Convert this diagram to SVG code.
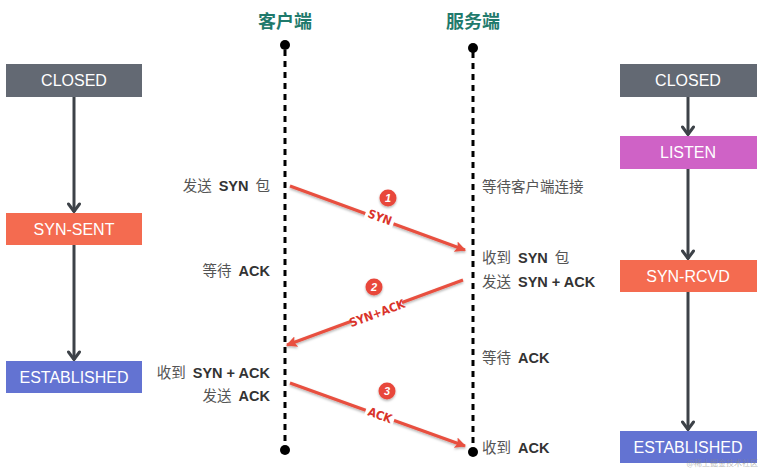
<svg xmlns="http://www.w3.org/2000/svg" width="762" height="469" viewBox="0 0 762 469">
<defs>
<style>
.box text{font-family:"Liberation Sans",Arial,sans-serif;font-size:16px;fill:#fff;text-anchor:middle}
.title{font-family:"Noto Sans CJK SC","Noto Sans",sans-serif;font-size:18px;font-weight:bold;fill:#1f7a6c;text-anchor:middle}
.note{font-family:"Noto Sans CJK SC","Liberation Sans",sans-serif;font-size:14.5px;fill:#555}
.note tspan.en{font-family:"Liberation Sans",Arial,sans-serif;font-weight:bold;fill:#333}
.life{stroke:#000;stroke-width:3;stroke-dasharray:6 5;fill:none}
.state{stroke:#3d4248;stroke-width:3;fill:none;marker-end:url(#chev)}
.msg{stroke:#e8503f;stroke-width:3;fill:none;marker-end:url(#tri);filter:url(#sh)}
.lbl{font-family:"DejaVu Sans Condensed","Liberation Sans Narrow","Liberation Sans",sans-serif;font-size:12px;font-weight:bold;fill:#d9332a;text-anchor:middle}
.num{font-family:"Liberation Sans",Arial,sans-serif;font-size:11px;font-weight:bold;font-style:italic;fill:#fff;text-anchor:middle}
</style>
<marker id="chev" viewBox="0 0 14 14" refX="12" refY="7" markerWidth="14" markerHeight="14" markerUnits="userSpaceOnUse" orient="auto">
<path d="M4,1.5 L11.5,7 L4,12.5" fill="none" stroke="#3d4248" stroke-width="3" stroke-linecap="round" stroke-linejoin="miter"/>
</marker>
<marker id="tri" viewBox="0 0 10 10" refX="9" refY="5" markerWidth="11" markerHeight="11" markerUnits="userSpaceOnUse" orient="auto">
<path d="M0,0 L10,5 L0,10 L2,5 Z" fill="#e8503f"/>
</marker>
<filter id="sh" x="-10%" y="-30%" width="120%" height="160%">
<feDropShadow dx="0" dy="1.5" stdDeviation="1" flood-color="#000" flood-opacity="0.3"/>
</filter>
</defs>
<rect width="762" height="469" fill="#fff"/>

<text class="title" x="285" y="28">客户端</text>
<text class="title" x="473" y="28">服务端</text>

<g id="lifelines">
<line class="life" x1="285" y1="50" x2="285" y2="446"/>
<line class="life" x1="473" y1="52" x2="473" y2="448"/>
<circle cx="285" cy="45" r="5" fill="#000"/>
<circle cx="285" cy="450" r="5" fill="#000"/>
<circle cx="473" cy="48" r="5" fill="#000"/>
<circle cx="473" cy="452" r="5" fill="#000"/>
</g>

<g id="connectors">
<line class="state" x1="74" y1="97" x2="74" y2="212"/>
<line class="state" x1="74" y1="245" x2="74" y2="360"/>
<line class="state" x1="688" y1="97" x2="688" y2="135"/>
<line class="state" x1="688" y1="169" x2="688" y2="259"/>
<line class="state" x1="688" y1="292" x2="688" y2="430"/>
<line class="msg" x1="290" y1="186" x2="465" y2="250"/>
<line class="msg" x1="463" y1="280" x2="287" y2="345"/>
<line class="msg" x1="290" y1="383" x2="465" y2="446"/>
</g>

<g id="label-syn" transform="translate(380 217) rotate(20)">
<rect x="-15" y="-7" width="30" height="14" fill="#fff"/>
<text class="lbl" x="0" y="4.5">SYN</text>
</g>
<g id="label-synack" transform="translate(377 313) rotate(-20.3)">
<rect x="-27" y="-7" width="54" height="14" fill="#fff"/>
<text class="lbl" x="0" y="4.5">SYN+ACK</text>
</g>
<g id="label-ack" transform="translate(380 415) rotate(19.8)">
<rect x="-15" y="-7" width="30" height="14" fill="#fff"/>
<text class="lbl" x="0" y="4.5">ACK</text>
</g>

<g id="step1"><circle cx="388" cy="198" r="8.5" fill="#e8473b" filter="url(#sh)"/><text class="num" x="388" y="202">1</text></g>
<g id="step2"><circle cx="374" cy="287" r="8.5" fill="#e8473b" filter="url(#sh)"/><text class="num" x="374" y="291">2</text></g>
<g id="step3"><circle cx="387" cy="391" r="8.5" fill="#e8473b" filter="url(#sh)"/><text class="num" x="387" y="395">3</text></g>

<g id="client-closed" class="box"><rect x="6" y="64" width="136" height="33" fill="#636973"/><text x="74" y="86">CLOSED</text></g>
<g id="client-synsent" class="box"><rect x="6" y="213" width="136" height="32" fill="#f46b50"/><text x="74" y="235">SYN-SENT</text></g>
<g id="client-established" class="box"><rect x="6" y="361" width="136" height="32" fill="#6373d2"/><text x="74" y="383">ESTABLISHED</text></g>

<g id="server-closed" class="box"><rect x="620" y="64" width="137" height="33" fill="#636973"/><text x="688" y="86">CLOSED</text></g>
<g id="server-listen" class="box"><rect x="620" y="136" width="137" height="33" fill="#cf62c6"/><text x="688" y="158">LISTEN</text></g>
<g id="server-synrcvd" class="box"><rect x="620" y="260" width="137" height="32" fill="#f46b50"/><text x="688" y="282">SYN-RCVD</text></g>
<g id="server-established" class="box"><rect x="620" y="431" width="137" height="32" fill="#6373d2"/><text x="688" y="453">ESTABLISHED</text></g>

<g id="client-notes" text-anchor="end">
<text class="note" x="270" y="191">发送<tspan class="en" dx="7">SYN</tspan><tspan dx="7">包</tspan></text>
<text class="note" x="270" y="276">等待<tspan class="en" dx="7">ACK</tspan></text>
<text class="note" x="270" y="378">收到<tspan class="en" dx="7">SYN + ACK</tspan></text>
<text class="note" x="270" y="401">发送<tspan class="en" dx="7">ACK</tspan></text>
</g>
<g id="server-notes">
<text class="note" x="482" y="192">等待客户端连接</text>
<text class="note" x="482" y="263">收到<tspan class="en" dx="7">SYN</tspan><tspan dx="7">包</tspan></text>
<text class="note" x="482" y="287">发送<tspan class="en" dx="7">SYN + ACK</tspan></text>
<text class="note" x="482" y="363">等待<tspan class="en" dx="7">ACK</tspan></text>
<text class="note" x="482" y="453">收到<tspan class="en" dx="7">ACK</tspan></text>
</g>

<text x="758" y="466" text-anchor="end" font-family="Noto Sans CJK SC,sans-serif" font-size="8" fill="#888" fill-opacity="0.6">@稀土掘金技术社区</text>
</svg>
